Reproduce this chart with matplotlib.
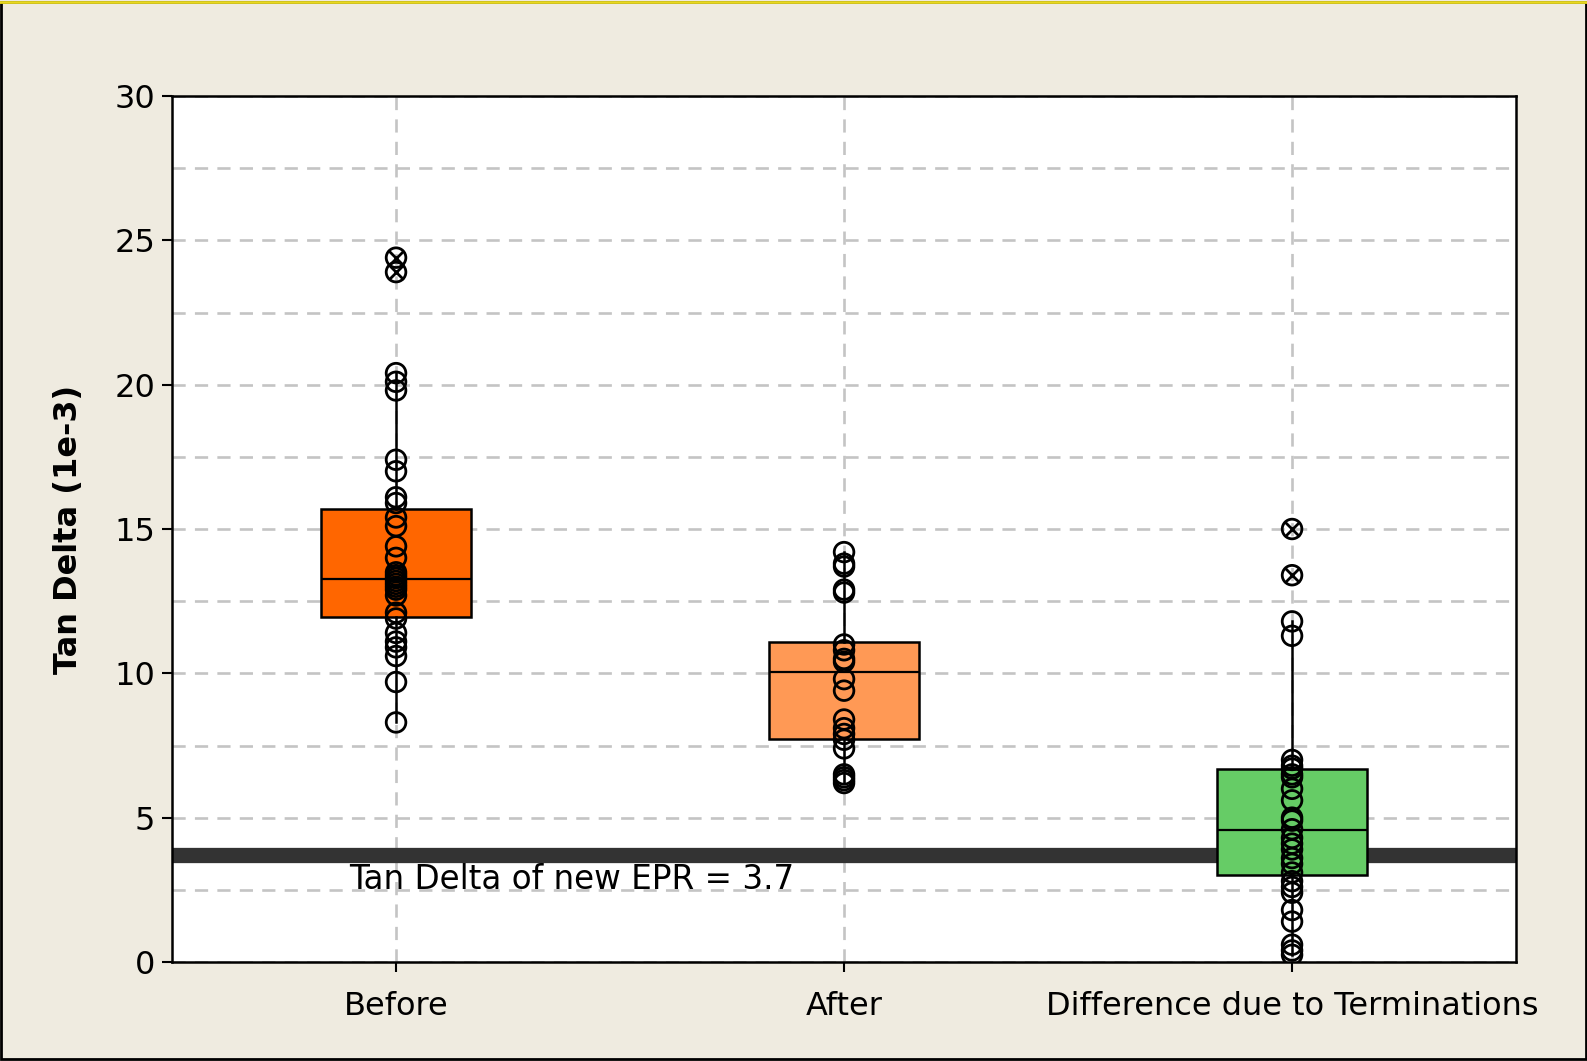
import matplotlib.pyplot as plt
from matplotlib.ticker import MultipleLocator
from matplotlib.patches import Rectangle

# categories and colours
groups = ["Before", "After", "Difference due to Terminations"]
box_colors = ["#FF6600", "#FF9955", "#66CC66"]

# individual readings (1e-3)
before = [20.4, 20.1, 19.8, 17.4, 17.0, 16.1, 15.9, 15.4, 15.1, 14.4, 14.0,
          13.5, 13.4, 13.3, 13.2, 13.1, 13.0, 12.9, 12.7, 12.1, 11.9, 11.4,
          11.1, 10.9, 10.6, 9.7, 8.3]
after = [14.2, 13.8, 13.7, 12.9, 12.8, 11.0, 10.8, 10.5, 10.4, 9.8, 9.4,
         8.4, 8.1, 7.9, 7.7, 7.4, 6.5, 6.4, 6.3, 6.2]
diff = [11.8, 11.3, 7.0, 6.8, 6.7, 6.5, 6.4, 6.0, 5.6, 5.0, 4.9, 4.6, 4.3,
        4.1, 3.9, 3.6, 3.4, 3.1, 2.8, 2.6, 2.4, 1.8, 1.4, 0.6, 0.4, 0.25]

# far outliers (drawn as circle with x)
before_out = [24.4, 23.9]
after_out = []
diff_out = [15.0, 13.4]

# box summary
q1 = [11.94, 7.72, 3.03]
med = [13.27, 10.03, 4.57]
q3 = [15.68, 11.07, 6.67]
whislo = [8.3, 6.2, 0.25]
whishi = [20.4, 14.2, 11.8]

new_epr = 3.7

bg = "#EFEBE0"
fig = plt.figure(figsize=(15.87, 10.61), dpi=100, facecolor=bg)
ax = fig.add_axes([0.1084, 0.0933, 0.8469, 0.8162])
ax.set_facecolor("white")

# figure frame
fig.patches.append(Rectangle((0.0008, 0.0015), 0.9984, 0.997, transform=fig.transFigure,
                             fill=False, edgecolor="black", linewidth=2, zorder=0))
fig.add_artist(plt.Line2D([0, 1], [0.998, 0.998], transform=fig.transFigure,
                          color="#E8D820", linewidth=2))

positions = [0.5, 1.5, 2.5]
stats = []
for i, g in enumerate(groups):
    stats.append(dict(label=g, q1=q1[i], med=med[i], q3=q3[i],
                      whislo=whislo[i], whishi=whishi[i], fliers=[]))

bp = ax.bxp(stats, positions=positions, widths=0.335, showcaps=False,
            showfliers=False, patch_artist=True,
            boxprops=dict(edgecolor="black", linewidth=1.8),
            medianprops=dict(color="black", linewidth=1.6),
            whiskerprops=dict(color="black", linewidth=1.8), zorder=3)
for patch, c in zip(bp["boxes"], box_colors):
    patch.set_facecolor(c)

# reference line for new EPR
ax.axhline(new_epr, color="#333333", linewidth=11, zorder=2)
ax.text(0.395, 2.85, "Tan Delta of new EPR = 3.7", fontsize=23.5, va="center",
        ha="left", zorder=2)

for pos, vals, outs in zip(positions, [before, after, diff],
                           [before_out, after_out, diff_out]):
    ax.scatter([pos] * len(vals), vals, s=200, facecolors="none",
               edgecolors="black", linewidths=2.0, zorder=4)
    if outs:
        ax.scatter([pos] * len(outs), outs, s=200, facecolors="none",
                   edgecolors="black", linewidths=2.0, zorder=4)
        ax.scatter([pos] * len(outs), outs, s=110, marker="x",
                   color="black", linewidths=2.0, zorder=4)

ax.set_xlim(0, 3)
ax.set_ylim(0, 30)
ax.set_xticks(positions)
ax.set_xticklabels(groups)
ax.yaxis.set_major_locator(MultipleLocator(5))
ax.yaxis.set_minor_locator(MultipleLocator(2.5))
ax.tick_params(axis="both", which="major", labelsize=23, length=7, width=1.5,
               direction="out", pad=5)
ax.tick_params(axis="x", which="major", pad=14)
ax.tick_params(axis="y", which="minor", length=0)
ax.grid(True, which="both", axis="y", color="#C4C4C4", linestyle=(0, (5, 3.5)),
        linewidth=1.9, zorder=0)
ax.grid(True, which="major", axis="x", color="#C4C4C4", linestyle=(0, (5, 3.5)),
        linewidth=1.9, zorder=0)
ax.set_axisbelow(True)
for s in ax.spines.values():
    s.set_linewidth(1.8)

ax.set_ylabel("Tan Delta (1e-3)", fontsize=23, fontweight="bold", labelpad=22)

fig.savefig("out.png", dpi=100, facecolor=bg)
